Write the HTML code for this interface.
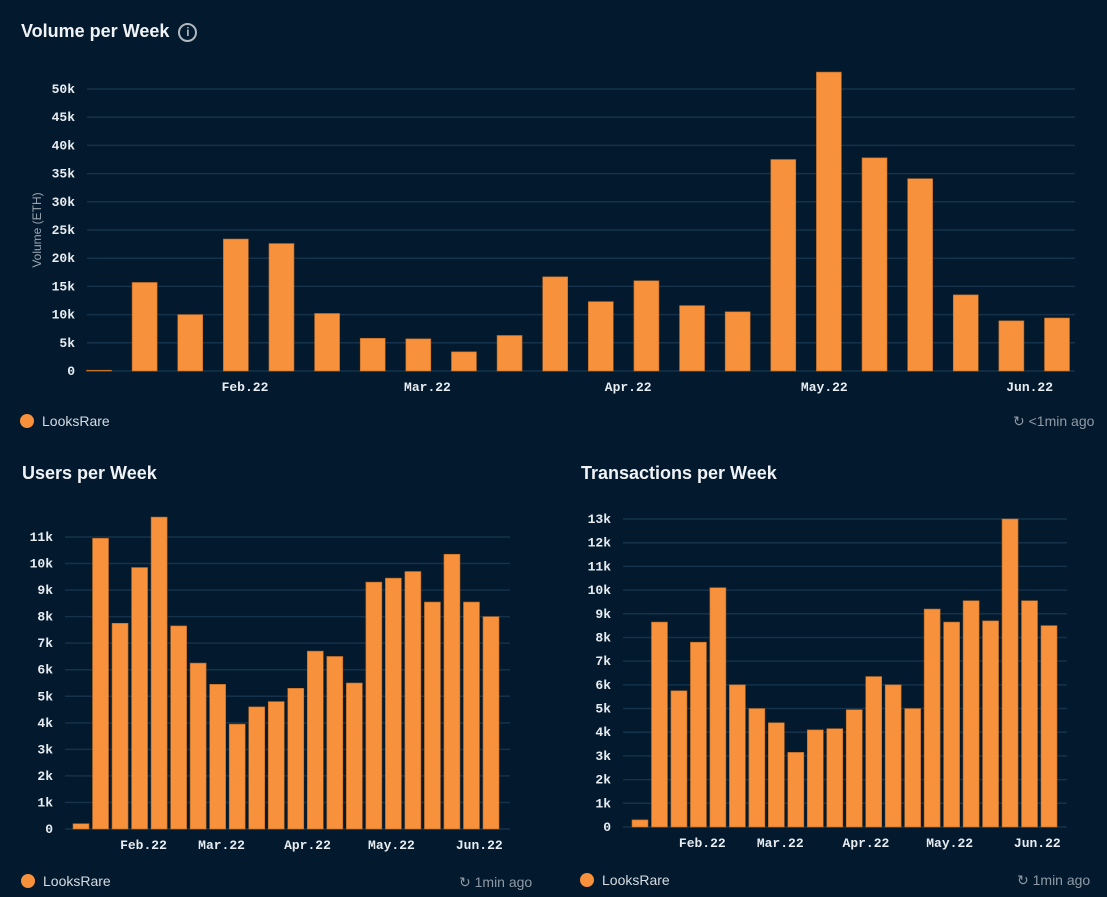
<!DOCTYPE html>
<html><head><meta charset="utf-8">
<style>
html,body{margin:0;padding:0;background:#03192d;}
body{width:1107px;height:897px;overflow:hidden;position:relative;font-family:"Liberation Sans",sans-serif;}
.t{position:absolute;color:#f0f3f6;font-weight:bold;font-size:18px;}
.leg{position:absolute;color:#d6dde4;font-size:14px;display:flex;align-items:center;}
.dot{width:14px;height:14px;border-radius:50%;background:#f7913b;margin-right:8px;display:inline-block;}
.ago{position:absolute;color:#8f9aa6;font-size:14px;}
svg{position:absolute;left:0;top:0;}
</style></head><body>
<div class="t" style="left:21px;top:21px;">Volume per Week <span style="display:inline-block;width:15px;height:15px;border:2px solid #b0b8c1;border-radius:50%;font-size:12px;line-height:15px;text-align:center;color:#b0b8c1;font-weight:bold;vertical-align:1px;margin-left:4px">i</span></div>
<div class="t" style="left:22px;top:463px;">Users per Week</div>
<div class="t" style="left:581px;top:463px;">Transactions per Week</div>
<div class="leg" style="left:20px;top:413px;"><span class="dot"></span>LooksRare</div>
<div class="leg" style="left:21px;top:873px;"><span class="dot"></span>LooksRare</div>
<div class="leg" style="left:580px;top:872px;"><span class="dot"></span>LooksRare</div>
<div class="ago" style="left:1013px;top:413px;">&#x21BB; &lt;1min ago</div>
<div class="ago" style="left:459px;top:874px;">&#x21BB; 1min ago</div>
<div class="ago" style="left:1017px;top:872px;">&#x21BB; 1min ago</div>
<svg id="s" width="1107" height="897"></svg>
<script>
const volValues=[0,15.7,10,23.4,22.6,10.2,5.8,5.7,3.4,6.3,16.7,12.3,16,11.6,10.5,37.5,53,37.8,34.1,13.5,8.9,9.4];
const volTicks=[0,5,10,15,20,25,30,35,40,45,50];
const usersValues=[0.2,10.95,7.75,9.85,11.75,7.65,6.25,5.45,3.95,4.6,4.8,5.3,6.7,6.5,5.5,9.3,9.45,9.7,8.55,10.35,8.55,8.0];
const usersTicks=[0,1,2,3,4,5,6,7,8,9,10,11];
const txValues=[0.3,8.65,5.75,7.8,10.1,6.0,5.0,4.4,3.15,4.1,4.15,4.95,6.35,6.0,5.0,9.2,8.65,9.55,8.7,13.0,9.55,8.5];
const txTicks=[0,1,2,3,4,5,6,7,8,9,10,11,12,13];
const monthLabels=["Feb.22","Mar.22","Apr.22","May.22","Jun.22"];
const volMonthPos=[3.2,7.2,11.6,15.9,20.4];
const usersMonthPos=[3.2,7.2,11.6,15.9,20.4];
const txMonthPos=[3.2,7.2,11.6,15.9,20.4];

const svg=document.getElementById('s');
const NS='http://www.w3.org/2000/svg';
function mk(t,a){const e=document.createElementNS(NS,t);for(const k in a)e.setAttribute(k,a[k]);svg.appendChild(e);return e;}

function chart(name,cfg,values,ticks,mpos){
  const y=v=>cfg.y0-(v/cfg.tmax)*(cfg.y0-cfg.ytop);
  const x=i=>cfg.c0+i*(cfg.c1-cfg.c0)/(values.length-1);
  ticks.forEach(t=>{
    const l=mk('line',{x1:cfg.gx0,x2:cfg.gx1,y1:y(t*cfg.unit),y2:y(t*cfg.unit),stroke:'#15324a','stroke-width':1.5});
    
    
    const tx=mk('text',{x:cfg.gx0-12,y:y(t*cfg.unit)+4,'text-anchor':'end',fill:'#e8edf2','font-size':13,'font-weight':'bold','font-family':'Liberation Mono, monospace'});
    tx.textContent=t===0?'0':t+'k';
    
    
  });
  values.forEach((v,i)=>{
    const h=Math.max(cfg.y0-y(v*cfg.unit),0.8);
    const r=mk('rect',{x:x(i)-cfg.bw/2,y:cfg.y0-h,width:cfg.bw,height:h,fill:'#f7913b',stroke:'#b86a26','stroke-width':0.6});
    
    
  });
  monthLabels.forEach((m,k)=>{
    const tx=mk('text',{x:x(mpos[k]),y:cfg.y0+20,'text-anchor':'middle',fill:'#e8edf2','font-size':13,'font-weight':'bold','font-family':'Liberation Mono, monospace'});
    tx.textContent=m;
    
    
  });
}
chart('volume',{y0:371,ytop:89,tmax:50,unit:1,gx0:87,gx1:1075,c0:99,c1:1057,bw:25},volValues,volTicks,volMonthPos);
chart('users',{y0:829,ytop:537,tmax:11,unit:1,gx0:65,gx1:510,c0:81,c1:491,bw:16},usersValues,usersTicks,usersMonthPos);
chart('transactions',{y0:827,ytop:519,tmax:13,unit:1,gx0:623,gx1:1067,c0:640,c1:1049,bw:16},txValues,txTicks,txMonthPos);
const yt=mk('text',{x:0,y:0,transform:'translate(41,230) rotate(-90)','text-anchor':'middle',fill:'#9aa5b1','font-size':12,'font-family':'Liberation Sans, sans-serif'});
yt.textContent='Volume (ETH)';


</script>
</body></html>
